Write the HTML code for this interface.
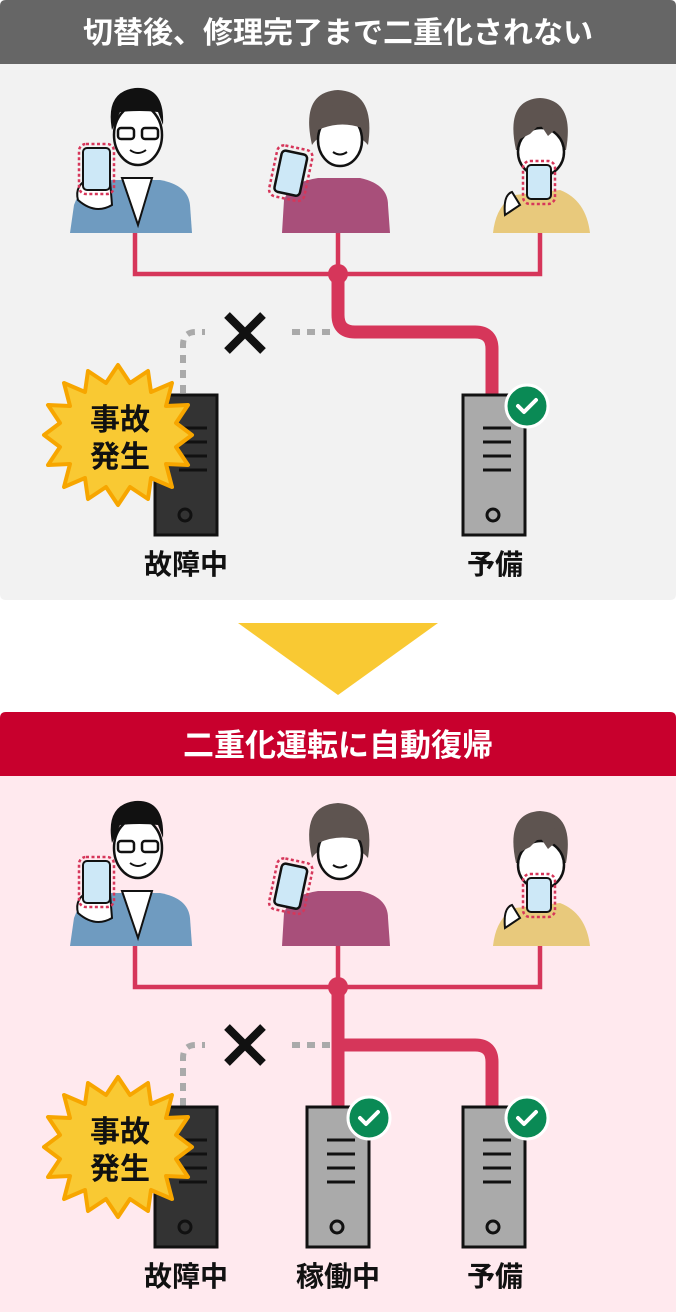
<!DOCTYPE html>
<html><head><meta charset="utf-8"><style>
body{margin:0;background:#fff;width:676px;height:1312px;overflow:hidden}
svg{display:block}
text{font-family:"Liberation Sans","Noto Sans CJK JP",sans-serif;font-weight:700}
</style></head><body>
<svg width="676" height="1312" viewBox="0 0 676 1312" xmlns="http://www.w3.org/2000/svg">
<defs>
<g id="people">
  <!-- man -->
  <path d="M70,233 L74,205 Q80,185 110,180 L160,180 Q188,185 190,205 L192,233 Z" fill="#6f9bc0"/>
  <path d="M122,178 L138,225 L152,178 Z" fill="#fff" stroke="#111" stroke-width="2"/>
  <ellipse cx="138" cy="135" rx="24" ry="30" fill="#fff" stroke="#111" stroke-width="2.5"/>
  <path d="M112,130 Q105,92 135,88 Q165,86 163,125 L158,112 Q140,110 120,112 Z" fill="#111"/>
  <rect x="118" y="128" width="16" height="11" rx="3" fill="none" stroke="#111" stroke-width="2.5"/>
  <rect x="142" y="128" width="16" height="11" rx="3" fill="none" stroke="#111" stroke-width="2.5"/>
  <path d="M130,150 Q138,156 146,150" fill="none" stroke="#111" stroke-width="2"/>
  <path d="M78,200 Q74,185 90,178 L110,180 L112,205 Q95,215 78,200Z" fill="#fff" stroke="#111" stroke-width="2"/>
  <rect x="83" y="148" width="27" height="42" rx="4" fill="#cde8f7" stroke="#111" stroke-width="2"/>
  <rect x="79" y="144" width="35" height="50" rx="7" fill="none" stroke="#d6365a" stroke-width="2.5" stroke-dasharray="3,2.5"/>
  <!-- woman -->
  <path d="M282,233 L284,200 Q290,182 318,178 L360,178 Q388,184 388,205 L390,233 Z" fill="#a84f7a"/>
  <path d="M312,145 Q300,92 338,90 Q376,92 368,145 Q360,135 338,130 Q318,135 312,145Z" fill="#5e5450"/>
  <ellipse cx="340" cy="140" rx="22" ry="26" fill="#fff" stroke="#111" stroke-width="2.5"/>
  <path d="M318,130 Q322,102 345,104 Q362,108 362,128 Q340,120 318,130Z" fill="#5e5450"/>
  <path d="M333,152 Q340,157 347,152" fill="none" stroke="#111" stroke-width="2"/>
  <g transform="rotate(12 290 172)"><rect x="278" y="152" width="26" height="42" rx="4" fill="#cde8f7" stroke="#111" stroke-width="2.5"/>
  <rect x="273" y="147" width="36" height="52" rx="7" fill="none" stroke="#d6365a" stroke-width="2.5" stroke-dasharray="3,2.5"/></g>
  <!-- boy -->
  <path d="M493,233 Q496,205 515,195 L560,190 Q586,200 590,233 Z" fill="#e8c97c"/>
  <path d="M516,150 Q505,100 540,98 Q575,100 566,150 Z" fill="#5e5450"/>
  <ellipse cx="541" cy="152" rx="23" ry="24" fill="#fff" stroke="#111" stroke-width="2.5"/>
  <path d="M518,140 Q518,112 542,112 Q566,113 565,142 L557,128 L548,136 L540,124 L530,134Z" fill="#5e5450"/>
  <path d="M505,215 Q503,195 512,192 L520,205 Z" fill="#fff" stroke="#111" stroke-width="2"/>
  <rect x="527" y="165" width="24" height="34" rx="4" fill="#cde8f7" stroke="#111" stroke-width="2"/>
  <rect x="523" y="161" width="32" height="43" rx="7" fill="none" stroke="#d6365a" stroke-width="2.5" stroke-dasharray="3,2.5"/>
  <!-- lines -->
  <path d="M135,233 V274 H540 V233 M338,233 V274" fill="none" stroke="#d6365a" stroke-width="4.5"/>
  <circle cx="338" cy="274" r="10" fill="#d6365a"/>
</g>
<g id="srvdark">
  <rect x="0" y="0" width="62" height="140" fill="#333" stroke="#111" stroke-width="3"/>
  <path d="M24,33H52M24,47H52M24,61H52M24,75H52" stroke="#111" stroke-width="3"/>
  <circle cx="30" cy="120" r="6" fill="none" stroke="#111" stroke-width="3"/>
</g>
<g id="srvgray">
  <rect x="0" y="0" width="62" height="140" fill="#aaa" stroke="#111" stroke-width="3"/>
  <path d="M20,33H48M20,47H48M20,61H48M20,75H48" stroke="#111" stroke-width="3"/>
  <circle cx="30" cy="120" r="6" fill="none" stroke="#111" stroke-width="3"/>
</g>
<g id="check">
  <circle r="21" fill="#0a8a55" stroke="#fff" stroke-width="3"/>
  <path d="M-9,0 L-3,6 L9,-6" fill="none" stroke="#fff" stroke-width="4" stroke-linecap="round" stroke-linejoin="round"/>
</g>
<g id="burst">
  <polygon points="0,-70 12,-52 30,-64 33,-43 54,-52 48,-29 70,-30 58,-12 74,0 58,12 70,30 48,29 54,52 33,43 30,64 12,52 0,70 -12,52 -30,64 -33,43 -54,52 -48,29 -70,30 -58,12 -74,0 -58,-12 -70,-30 -48,-29 -54,-52 -33,-43 -30,-64 -12,-52" fill="#f9c933" stroke="#f7a600" stroke-width="4" stroke-linejoin="round"/>
  <text x="2" y="-5" font-size="30" text-anchor="middle" fill="#111">事故</text>
  <text x="2" y="32" font-size="30" text-anchor="middle" fill="#111">発生</text>
</g>
<g id="xmark"><path d="M-18,-18 L18,18 M18,-18 L-18,18" stroke="#111" stroke-width="8"/></g>
</defs>

<!-- panel 1 -->
<path d="M0,6 Q0,0 6,0 H670 Q676,0 676,6 V594 Q676,600 670,600 H6 Q0,600 0,594Z" fill="#f2f2f2"/>
<path d="M0,6 Q0,0 6,0 H670 Q676,0 676,6 V64 H0Z" fill="#666"/>
<text x="338" y="43" font-size="30" text-anchor="middle" fill="#fff">切替後、修理完了まで二重化されない</text>
<use href="#people"/>
<path d="M330,332 H196 Q183,332 183,345 V395" fill="none" stroke="#aaa" stroke-width="6" stroke-dasharray="8,7"/>
<rect x="205" y="315" width="80" height="36" fill="#f2f2f2"/>
<use href="#xmark" x="245" y="333"/>
<path d="M338,280 V315 Q338,332 355,332 H475 Q492,332 492,349 V395" fill="none" stroke="#d6365a" stroke-width="13"/>
<use href="#srvdark" x="155" y="395"/>
<use href="#srvgray" x="463" y="395"/>
<use href="#check" x="527" y="406"/>
<use href="#burst" x="118" y="435"/>
<text x="186" y="574" font-size="28" text-anchor="middle" fill="#111">故障中</text>
<text x="495" y="574" font-size="28" text-anchor="middle" fill="#111">予備</text>

<polygon points="238,623 438,623 338,695" fill="#f9c933"/>

<!-- panel 2 -->
<path d="M0,718 Q0,712 6,712 H670 Q676,712 676,718 V1312 H0Z" fill="#ffe9ee"/>
<path d="M0,718 Q0,712 6,712 H670 Q676,712 676,718 V776 H0Z" fill="#c8002d"/>
<text x="338" y="756" font-size="31" text-anchor="middle" fill="#fff">二重化運転に自動復帰</text>
<use href="#people" y="713"/>
<path d="M330,1045 H196 Q183,1045 183,1058 V1107" fill="none" stroke="#aaa" stroke-width="6" stroke-dasharray="8,7"/>
<rect x="205" y="1027" width="80" height="36" fill="#ffe9ee"/>
<use href="#xmark" x="245" y="1045"/>
<path d="M338,993 V1107" fill="none" stroke="#d6365a" stroke-width="13"/>
<path d="M338,1045 H475 Q492,1045 492,1062 V1107" fill="none" stroke="#d6365a" stroke-width="13"/>
<use href="#srvdark" x="155" y="1107"/>
<use href="#srvgray" x="307" y="1107"/>
<use href="#srvgray" x="463" y="1107"/>
<use href="#check" x="369" y="1118"/>
<use href="#check" x="527" y="1118"/>
<use href="#burst" x="118" y="1147"/>
<text x="186" y="1286" font-size="28" text-anchor="middle" fill="#111">故障中</text>
<text x="338" y="1286" font-size="28" text-anchor="middle" fill="#111">稼働中</text>
<text x="495" y="1286" font-size="28" text-anchor="middle" fill="#111">予備</text>
</svg>
</body></html>
